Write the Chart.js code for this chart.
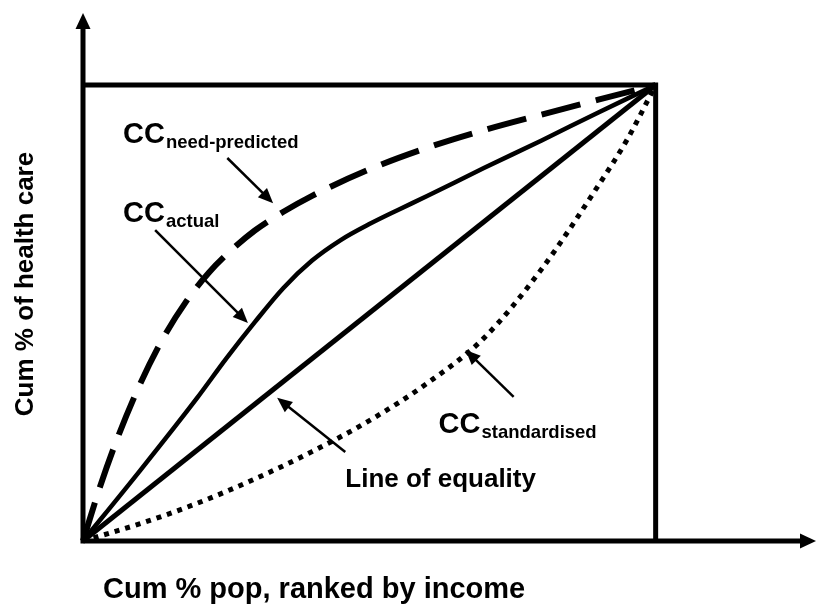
<!DOCTYPE html>
<html>
<head>
<meta charset="utf-8">
<script src="https://cdn.jsdelivr.net/npm/chart.js@4/dist/chart.umd.min.js"></script>
<style>
  html, body { margin: 0; padding: 0; background: #fff; }
  #wrap { width: 817px; height: 605px; }
</style>
</head>
<body>
<div id="wrap"><canvas id="chart"></canvas></div>
<script>
// Concentration curves, values in % (cum % pop on x, cum % health care on y)
const needX = [0, 3, 6, 10, 14, 18, 22, 26, 30, 35, 40, 50, 60, 70, 80, 90, 100];
const needY = [0, 12, 22.5, 34.5, 44.5, 52.5, 58.9, 63.9, 68.1, 72.2, 75.7, 81.5, 86.2, 90.1, 93.5, 96.8, 100];

const actualX = [0, 10, 20, 25, 30, 35, 40, 45, 50, 55, 60, 70, 80, 90, 100];
const actualY = [0, 15.5, 31.5, 40, 48, 55.5, 61.5, 66, 69.5, 72.6, 75.6, 81.8, 87.8, 94, 100];

const stdX = [0, 10, 20, 30, 40, 50, 60, 70, 80, 90, 95, 100];
const stdY = [0, 3.8, 8.3, 13.6, 19.6, 26.4, 34.5, 44.5, 59.5, 78, 88, 100];

const equalX = [0, 100];
const equalY = [0, 100];

// frame: top and right side of the unit box; axes run on to the arrow tips
const boxX = [0, 100, 100];
const boxY = [100, 100, 0];
const X_MAX = 128;
const Y_MAX = 115.8;

// labels: [main, subscript, x, y] in data units (x = left edge, y = baseline)
const labels = [
  ["CC", "need-predicted", 7.0, 87.3],
  ["CC", "actual", 7.0, 70.0],
  ["CC", "standardised", 62.1, 23.7],
  ["Line of equality", "", 45.8, 11.8],
];

// pointer arrows: [fromX, fromY, toX, toY] in data units
const pointers = [
  [25.2, 84.0, 33.2, 74.1],
  [12.6, 68.2, 28.8, 47.8],
  [45.8, 19.5, 33.9, 31.4],
  [75.2, 31.6, 66.8, 41.9],
];

const xTitle = "Cum % pop, ranked by income";
const yTitle = "Cum % of health care";

const FONT = '"Liberation Sans", Arial, sans-serif';

function toPoints(xs, ys) {
  return xs.map((x, i) => ({ x, y: ys[i] }));
}

function curve(xs, ys, width, dash) {
  return {
    data: toPoints(xs, ys),
    borderColor: "#000",
    borderWidth: width,
    borderDash: dash,
    borderCapStyle: "butt",
    pointRadius: 0,
    cubicInterpolationMode: "monotone",
    fill: false,
    clip: false,
  };
}

function arrowHead(ctx, x1, y1, x2, y2, len, half) {
  const a = Math.atan2(y2 - y1, x2 - x1);
  ctx.beginPath();
  ctx.moveTo(x2, y2);
  ctx.lineTo(x2 - len * Math.cos(a) + half * Math.sin(a), y2 - len * Math.sin(a) - half * Math.cos(a));
  ctx.lineTo(x2 - len * Math.cos(a) - half * Math.sin(a), y2 - len * Math.sin(a) + half * Math.cos(a));
  ctx.closePath();
  ctx.fill();
}

const decorations = {
  id: "decorations",
  afterDatasetsDraw(chart) {
    const { ctx } = chart;
    const sx = chart.scales.x, sy = chart.scales.y;
    ctx.save();
    ctx.fillStyle = "#000";
    ctx.strokeStyle = "#000";

    // axes with arrow heads
    const ox = sx.getPixelForValue(0), oy = sy.getPixelForValue(0);
    const xt = sx.getPixelForValue(X_MAX), yt = sy.getPixelForValue(Y_MAX);
    ctx.lineWidth = 5;
    ctx.beginPath();
    ctx.moveTo(ox, oy + 2.5);
    ctx.lineTo(ox, yt + 14);
    ctx.moveTo(ox - 2.5, oy);
    ctx.lineTo(xt - 14, oy);
    ctx.stroke();
    arrowHead(ctx, ox, oy, ox, yt, 16, 7.5);
    arrowHead(ctx, ox, oy, xt, oy, 16, 7.5);

    // pointer arrows
    ctx.lineWidth = 2.5;
    pointers.forEach(([fx, fy, tx, ty]) => {
      const x1 = sx.getPixelForValue(fx), y1 = sy.getPixelForValue(fy);
      const x2 = sx.getPixelForValue(tx), y2 = sy.getPixelForValue(ty);
      const a = Math.atan2(y2 - y1, x2 - x1);
      ctx.beginPath();
      ctx.moveTo(x1, y1);
      ctx.lineTo(x2 - 10 * Math.cos(a), y2 - 10 * Math.sin(a));
      ctx.stroke();
      arrowHead(ctx, x1, y1, x2, y2, 15, 6.5);
    });

    // curve labels
    ctx.textBaseline = "alphabetic";
    ctx.textAlign = "left";
    labels.forEach(([main, sub, lx, ly]) => {
      const px = sx.getPixelForValue(lx), py = sy.getPixelForValue(ly);
      ctx.font = (sub ? "bold 29px " : "bold 26px ") + FONT;
      ctx.fillText(main, px, py);
      if (sub) {
        const w = ctx.measureText(main).width;
        ctx.font = "bold 18.5px " + FONT;
        ctx.fillText(sub, px + w + 1, py + 5);
      }
    });

    // axis titles
    ctx.font = "bold 29px " + FONT;
    ctx.fillText(xTitle, 103, 598);
    ctx.font = "bold 26px " + FONT;
    ctx.translate(33, 284);
    ctx.rotate(-Math.PI / 2);
    ctx.textAlign = "center";
    ctx.fillText(yTitle, 0, 0);
    ctx.restore();
  },
};

new Chart(document.getElementById("chart"), {
  type: "line",
  data: {
    datasets: [
      curve(boxX, boxY, 5, []),
      curve(equalX, equalY, 5, []),
      curve(actualX, actualY, 4.5, []),
      curve(needX, needY, 6, [40, 16]),
      curve(stdX, stdY, 5, [5, 6]),
    ],
  },
  options: {
    responsive: true,
    maintainAspectRatio: false,
    animation: false,
    devicePixelRatio: 1,
    layout: { padding: { left: 83, right: 1, top: 13, bottom: 64 } },
    plugins: { legend: { display: false }, tooltip: { enabled: false } },
    elements: { line: { tension: 0 } },
    scales: {
      x: { type: "linear", min: 0, max: X_MAX, display: false },
      y: { type: "linear", min: 0, max: Y_MAX, display: false },
    },
  },
  plugins: [decorations],
});
</script>
</body>
</html>
